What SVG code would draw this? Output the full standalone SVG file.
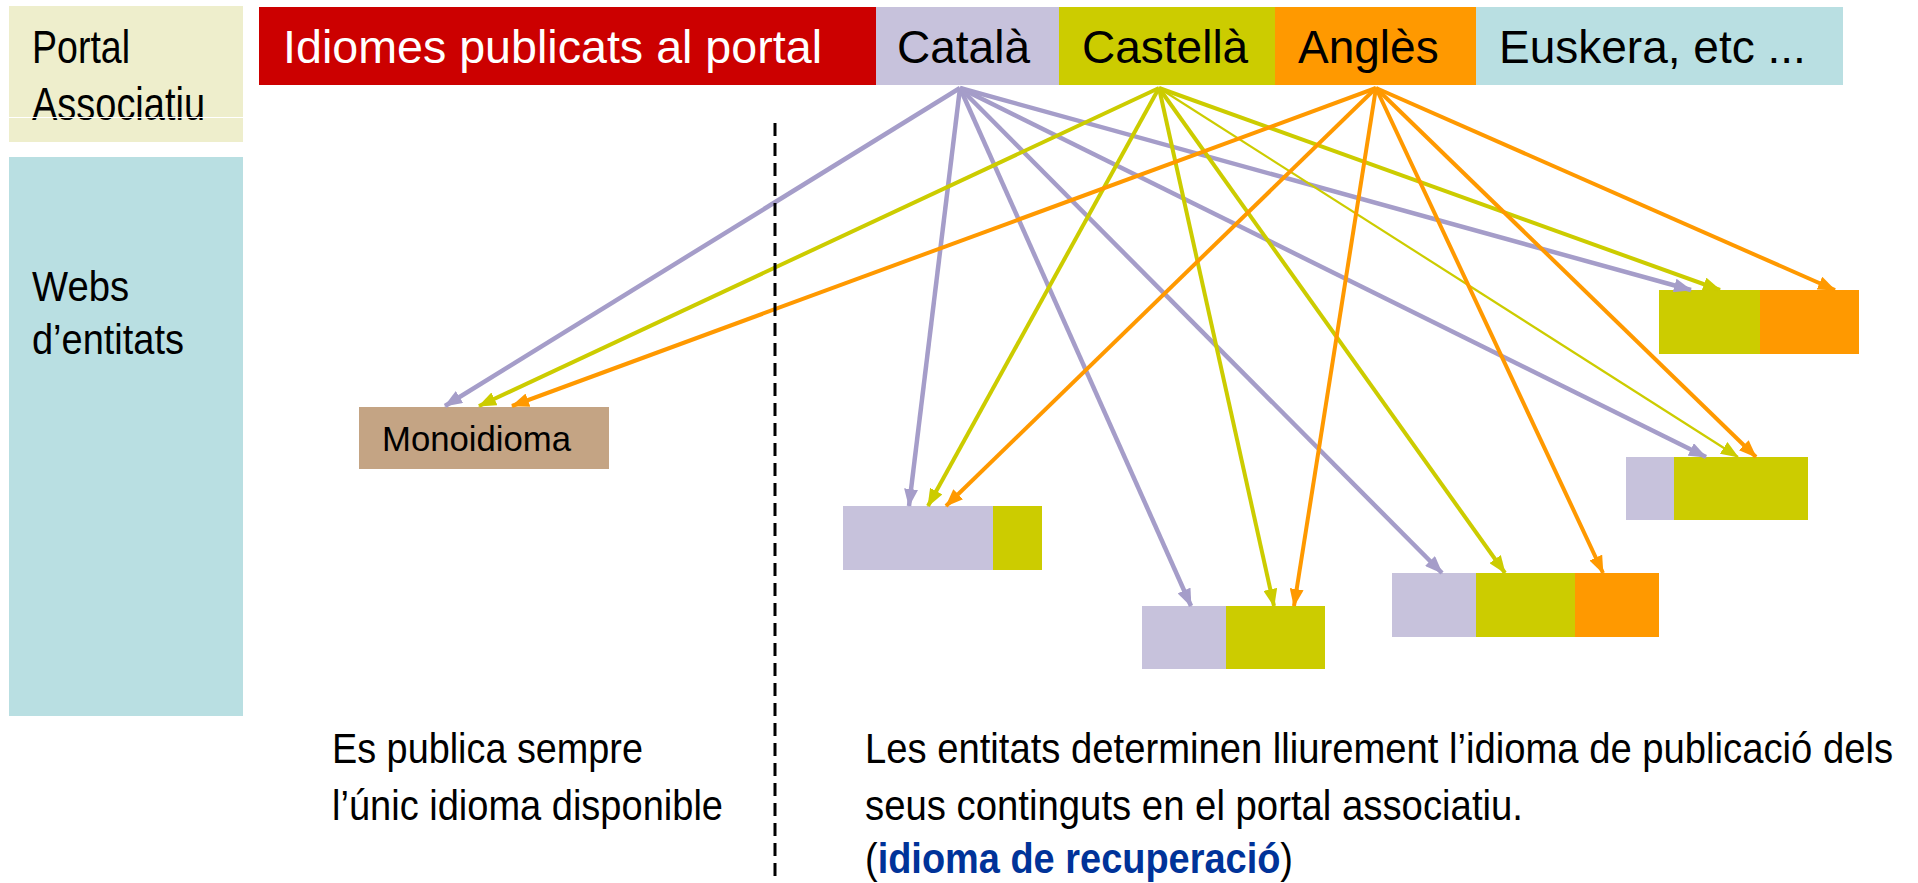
<svg xmlns="http://www.w3.org/2000/svg" width="1918" height="883" viewBox="0 0 1918 883">
<style>
text{font-family:"Liberation Sans",Arial,sans-serif;fill:#000}
.top{font-size:46px}
.side{font-size:46px}
.web{font-size:43px}
.bot{font-size:43px}
.p{stroke:#A59DC9;stroke-width:4.5;fill:none}
.g{stroke:#CCCC00;stroke-width:4;fill:none}
.o{stroke:#FF9900;stroke-width:4;fill:none}
</style>
<defs>
<marker id="ap" viewBox="0 0 18 14" refX="17" refY="7" markerWidth="18" markerHeight="14" markerUnits="userSpaceOnUse" orient="auto"><path d="M0,0 L18,7 L0,14 z" fill="#A59DC9"/></marker>
<marker id="ag" viewBox="0 0 18 14" refX="17" refY="7" markerWidth="18" markerHeight="14" markerUnits="userSpaceOnUse" orient="auto"><path d="M0,0 L18,7 L0,14 z" fill="#CCCC00"/></marker>
<marker id="ao" viewBox="0 0 18 14" refX="17" refY="7" markerWidth="18" markerHeight="14" markerUnits="userSpaceOnUse" orient="auto"><path d="M0,0 L18,7 L0,14 z" fill="#FF9900"/></marker>
</defs>
<rect width="1918" height="883" fill="#fff"/>

<g id="portal-associatiu">
<rect x="9" y="6" width="234" height="136" fill="#EEEECC"/>
<text class="side" x="32" y="63" textLength="98" lengthAdjust="spacingAndGlyphs">Portal</text>
<text class="side" x="32" y="120" textLength="173" lengthAdjust="spacingAndGlyphs">Associatiu</text>
<line x1="9" y1="117.5" x2="243" y2="117.5" stroke="#fff" stroke-width="1"/>
</g>

<g id="webs-entitats">
<rect x="9" y="157" width="234" height="559" fill="#B9DFE2"/>
<text class="web" x="32" y="301" textLength="97" lengthAdjust="spacingAndGlyphs">Webs</text>
<text class="web" x="32" y="354" textLength="152" lengthAdjust="spacingAndGlyphs">d’entitats</text>
</g>

<g id="idiomes">
<rect x="259" y="7" width="617" height="78" fill="#CC0000"/>
<text class="top" x="283" y="63" style="fill:#fff" textLength="539" lengthAdjust="spacingAndGlyphs">Idiomes publicats al portal</text>
</g>
<g id="catala">
<rect x="876" y="7" width="183" height="78" fill="#C7C2DC"/>
<text class="top" x="897" y="63">Català</text>
</g>
<g id="castella">
<rect x="1059" y="7" width="216" height="78" fill="#CCCC00"/>
<text class="top" x="1082" y="63">Castellà</text>
</g>
<g id="angles">
<rect x="1275" y="7" width="201" height="78" fill="#FF9900"/>
<text class="top" x="1298" y="63">Anglès</text>
</g>
<g id="euskera">
<rect x="1476" y="7" width="367" height="78" fill="#B9DFE2"/>
<text class="top" x="1499" y="63">Euskera, etc ...</text>
</g>

<g id="monoidioma">
<rect x="359" y="407" width="250" height="62" fill="#C4A484"/>
<text x="382" y="451" style="font-size:35px" textLength="189" lengthAdjust="spacingAndGlyphs">Monoidioma</text>
</g>

<g id="web-a">
<rect x="843" y="506" width="150" height="64" fill="#C7C2DC"/>
<rect x="993" y="506" width="49" height="64" fill="#CCCC00"/>
</g>
<g id="web-b">
<rect x="1142" y="606" width="84" height="63" fill="#C7C2DC"/>
<rect x="1226" y="606" width="99" height="63" fill="#CCCC00"/>
</g>
<g id="web-c">
<rect x="1392" y="573" width="84" height="64" fill="#C7C2DC"/>
<rect x="1476" y="573" width="99" height="64" fill="#CCCC00"/>
<rect x="1575" y="573" width="84" height="64" fill="#FF9900"/>
</g>
<g id="web-d">
<rect x="1626" y="457" width="48" height="63" fill="#C7C2DC"/>
<rect x="1674" y="457" width="134" height="63" fill="#CCCC00"/>
</g>
<g id="web-e">
<rect x="1659" y="290" width="101" height="64" fill="#CCCC00"/>
<rect x="1760" y="290" width="99" height="64" fill="#FF9900"/>
</g>

<g id="connectors">
<line class="p" x1="960" y1="88" x2="445" y2="406" marker-end="url(#ap)"/>
<line class="p" x1="960" y1="88" x2="909" y2="506" marker-end="url(#ap)"/>
<line class="p" x1="960" y1="88" x2="1191" y2="606" marker-end="url(#ap)"/>
<line class="p" x1="960" y1="88" x2="1442" y2="573" marker-end="url(#ap)"/>
<line class="p" x1="960" y1="88" x2="1706" y2="457" marker-end="url(#ap)"/>
<line class="p" x1="960" y1="88" x2="1691" y2="290" marker-end="url(#ap)"/>

<line class="g" x1="1159" y1="88" x2="479" y2="406" marker-end="url(#ag)"/>
<line class="g" x1="1159" y1="88" x2="928" y2="506" marker-end="url(#ag)"/>
<line class="g" x1="1159" y1="88" x2="1274" y2="606" marker-end="url(#ag)"/>
<line class="g" x1="1159" y1="88" x2="1505" y2="573" marker-end="url(#ag)"/>
<line class="g" x1="1159" y1="88" x2="1738" y2="457" marker-end="url(#ag)" style="stroke-width:2.2"/>
<line class="g" x1="1159" y1="88" x2="1720" y2="290" marker-end="url(#ag)"/>

<line class="o" x1="1376" y1="88" x2="512" y2="406" marker-end="url(#ao)"/>
<line class="o" x1="1376" y1="88" x2="946" y2="506" marker-end="url(#ao)"/>
<line class="o" x1="1376" y1="88" x2="1294" y2="606" marker-end="url(#ao)"/>
<line class="o" x1="1376" y1="88" x2="1603" y2="573" marker-end="url(#ao)"/>
<line class="o" x1="1376" y1="88" x2="1756" y2="457" marker-end="url(#ao)"/>
<line class="o" x1="1376" y1="88" x2="1835" y2="290" marker-end="url(#ao)"/>
</g>

<line x1="775" y1="123" x2="775" y2="883" stroke="#000" stroke-width="3" stroke-dasharray="13 7"/>

<g id="note-left">
<text class="bot" x="332" y="763" textLength="311" lengthAdjust="spacingAndGlyphs">Es publica sempre</text>
<text class="bot" x="332" y="820" textLength="391" lengthAdjust="spacingAndGlyphs">l’únic idioma disponible</text>
</g>
<g id="note-right">
<text class="bot" x="865" y="763" textLength="1028" lengthAdjust="spacingAndGlyphs">Les entitats determinen lliurement l’idioma de publicació dels</text>
<text class="bot" x="865" y="820" textLength="658" lengthAdjust="spacingAndGlyphs">seus continguts en el portal associatiu.</text>
<text class="bot" x="865" y="873" textLength="428" lengthAdjust="spacingAndGlyphs">(<tspan style="fill:#003399;font-weight:bold">idioma de recuperació</tspan>)</text>
</g>
</svg>
